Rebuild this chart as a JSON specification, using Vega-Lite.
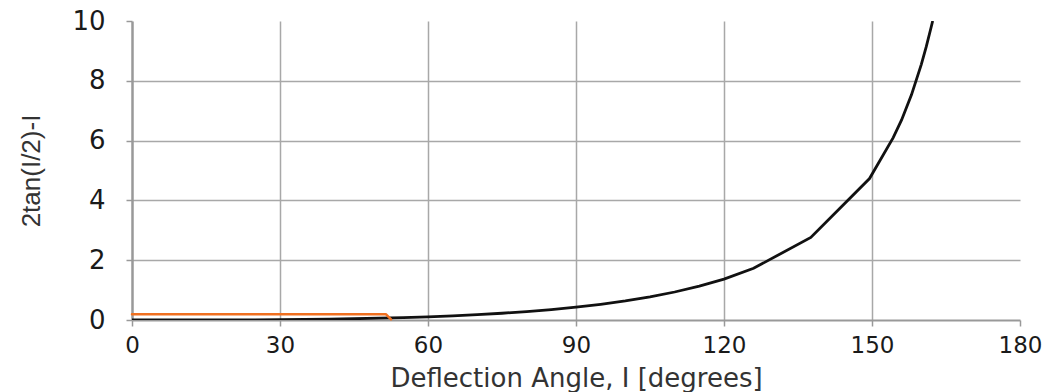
{
  "$schema": "https://vega.github.io/schema/vega-lite/v6.json",
  "width": 888,
  "height": 299,
  "autosize": {"type": "none"},
  "padding": {"left": 132, "top": 21, "right": 30, "bottom": 72},
  "background": "white",
  "config": {"view": {"stroke": null}},
  "datasets": {
    "curve": [
      {"angle": 0, "value": 0},
      {"angle": 5, "value": 0.0001},
      {"angle": 10, "value": 0.0004},
      {"angle": 15, "value": 0.0015},
      {"angle": 20, "value": 0.0036},
      {"angle": 25, "value": 0.0071},
      {"angle": 30, "value": 0.0123},
      {"angle": 35, "value": 0.0197},
      {"angle": 40, "value": 0.0298},
      {"angle": 45, "value": 0.043},
      {"angle": 50, "value": 0.06},
      {"angle": 55, "value": 0.0812},
      {"angle": 60, "value": 0.1075},
      {"angle": 65, "value": 0.1397},
      {"angle": 70, "value": 0.1787},
      {"angle": 75, "value": 0.2257},
      {"angle": 80, "value": 0.2819},
      {"angle": 85, "value": 0.3491},
      {"angle": 90, "value": 0.4292},
      {"angle": 95, "value": 0.5246},
      {"angle": 100, "value": 0.6382},
      {"angle": 105, "value": 0.7739},
      {"angle": 110, "value": 0.9364},
      {"angle": 115, "value": 1.1322},
      {"angle": 120, "value": 1.3697},
      {"angle": 126, "value": 1.73},
      {"angle": 137.6, "value": 2.76},
      {"angle": 149.5, "value": 4.73},
      {"angle": 154.3, "value": 6.1},
      {"angle": 156, "value": 6.69},
      {"angle": 158, "value": 7.53},
      {"angle": 160, "value": 8.55},
      {"angle": 161, "value": 9.14},
      {"angle": 162, "value": 9.8},
      {"angle": 162.3, "value": 10.0}
    ],
    "orange": [
      {"angle": 0, "value": 0.19},
      {"angle": 51.5, "value": 0.19},
      {"angle": 52.5, "value": 0.02}
    ]
  },
  "layer": [
    {
      "data": {"name": "curve"},
      "mark": {"type": "line", "color": "#111111", "strokeWidth": 2.8, "clip": true},
      "encoding": {
        "x": {
          "field": "angle",
          "type": "quantitative",
          "scale": {"domain": [0, 180], "nice": false, "zero": false},
          "axis": {
            "values": [0, 30, 60, 90, 120, 150, 180],
            "title": "Deflection Angle, I [degrees]",
            "grid": true,
            "gridColor": "#a8a8a8",
            "gridWidth": 1.5,
            "gridOpacity": {"condition": {"test": "datum.value === 0 || datum.value === 180", "value": 0}, "value": 1},
            "domainColor": "#999999",
            "domainWidth": 2,
            "tickColor": "#999999",
            "tickSize": 6,
            "tickWidth": 1.5,
            "labelFont": "DejaVu Sans",
            "labelFontSize": 23,
            "labelColor": "#1a1a1a",
            "labelPadding": 8,
            "labelFlush": false,
            "labelOverlap": false,
            "titleFont": "DejaVu Sans",
            "titleFontSize": 26,
            "titleFontWeight": "normal",
            "titleColor": "#333333",
            "titleBaseline": "alphabetic",
            "titleY": 66
          }
        },
        "y": {
          "field": "value",
          "type": "quantitative",
          "scale": {"domain": [0, 10], "nice": false},
          "axis": {
            "values": [0, 2, 4, 6, 8, 10],
            "title": "2tan(I/2)-I",
            "grid": true,
            "gridColor": "#a8a8a8",
            "gridWidth": 1.5,
            "gridOpacity": {"condition": {"test": "datum.value === 0 || datum.value === 10", "value": 0}, "value": 1},
            "domainColor": "#999999",
            "domainWidth": 2.5,
            "tickColor": "#999999",
            "tickSize": 6,
            "tickWidth": 1.5,
            "labelFont": "DejaVu Sans",
            "labelFontSize": 26,
            "labelColor": "#1a1a1a",
            "labelPadding": 21,
            "labelFlush": false,
            "titleFont": "Liberation Sans",
            "titleFontSize": 26,
            "titleFontWeight": "normal",
            "titleColor": "#333333",
            "titleBaseline": "bottom",
            "titleX": -88
          }
        }
      }
    },
    {
      "data": {"name": "orange"},
      "mark": {"type": "line", "color": "#f07020", "strokeWidth": 2.5, "strokeCap": "round", "strokeJoin": "round"},
      "encoding": {
        "x": {"field": "angle", "type": "quantitative"},
        "y": {"field": "value", "type": "quantitative"}
      }
    }
  ]
}
